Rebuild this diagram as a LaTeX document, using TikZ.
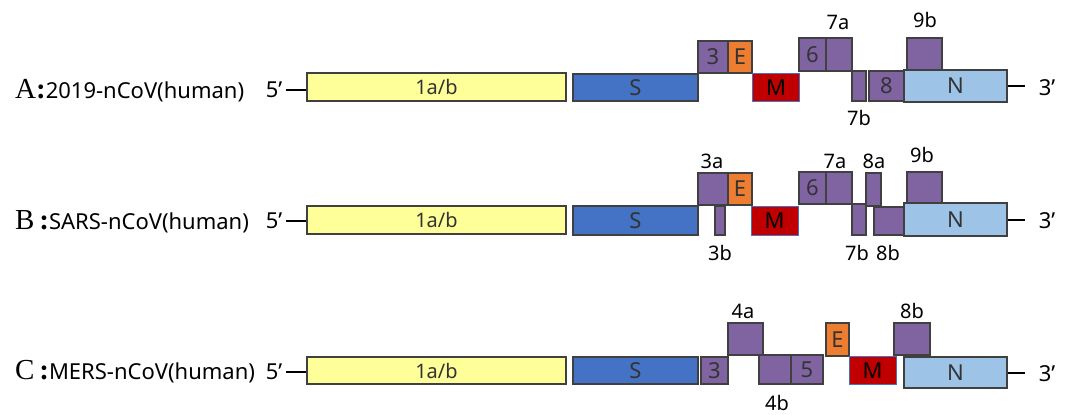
\documentclass[tikz,border=0pt]{standalone}
\usepackage{fontspec}
\setmainfont{Noto Sans}
\newfontfamily\letterfont{Liberation Serif}
\definecolor{orfyellow}{HTML}{FFFF99}
\definecolor{sblue}{HTML}{4472C4}
\definecolor{mred}{HTML}{C00000}
\definecolor{eorange}{HTML}{ED7D31}
\definecolor{orfpurple}{HTML}{8064A2}
\definecolor{nblue}{HTML}{9DC3E6}
\definecolor{edge}{HTML}{404040}
\tikzset{
  gene/.style={draw=edge, line width=1.1pt, inner sep=0pt, text=black!80,
    font=\fontsize{22}{22}\selectfont},
  mbox/.style={gene, draw=sblue, line width=0.8pt, fill=mred, text=black},
  tag/.style={inner sep=0pt, font=\fontsize{20}{20}\selectfont},
  endmark/.style={inner sep=0pt, font=\fontsize{22}{22}\selectfont},
  strain/.style={inner sep=0pt, anchor=west, font=\fontsize{22}{22}\selectfont},
  strand/.style={line width=1.3pt, black},
}
\newcommand\serifletter[1]{{\letterfont\fontsize{29}{29}\selectfont #1}}
% gene box: name, x1, y1, x2, y2, fill, label
\newcommand\gbox[7]{%
  \node[gene, fill=#6, minimum width={#4-#2}, minimum height={#5-#3}]
    (#1) at ({(#2+#4)/2},{(#3+#5)/2}) {#7};}
\newcommand\polybox[5]{% name, x1, y1, x2, y2 : the 1a/b box
  \node[gene, fill=orfyellow, minimum width={#4-#2}, minimum height={#5-#3},
    font=\fontsize{20}{20}\selectfont]
    (#1) at ({(#2+#4)/2},{(#3+#5)/2}) {1a/b};}
\begin{document}
\begin{tikzpicture}[x=1pt,y=-1pt]
\useasboundingbox (0,0) rectangle (1069,415);

% ---------------- A: 2019-nCoV ----------------
\node[strain] (labA) at (15,91) {\serifletter{A\textbf{:}}2019-nCoV(human)};
\node[endmark] (fA) at (274,90) {5'};
\polybox{abA}{307}{73}{566}{101}
\gbox{sA}{573}{74}{698}{101}{sblue}{S}
\gbox{o3A}{698}{41}{728}{73}{orfpurple}{3}
\gbox{eA}{728}{41}{752}{73}{eorange}{E}
\node[mbox, minimum width=47, minimum height=28] (mA) at (776,87.5) {M};
\gbox{o6A}{799}{38}{826}{71}{orfpurple}{6}
\gbox{o7aA}{826}{38}{852}{71}{orfpurple}{}
\gbox{o7bA}{852}{71}{866}{101}{orfpurple}{}
\gbox{o8A}{869}{71}{904}{101}{orfpurple}{8}
\gbox{o9bA}{907}{38}{942}{70}{orfpurple}{}
\gbox{nA}{904}{70}{1007}{102}{nblue}{N}
\node[endmark] (tA) at (1047,88) {3'};
\node[tag] (l7aA) at (838,22) {7a};
\node[tag] (l9bA) at (925,20) {9b};
\node[tag] (l7bA) at (859,118) {7b};
\draw[strand] (fA.east) ++(4,0) coordinate (sA5) -- (sA5 -| abA.west);
\draw[strand] (nA.east |- 0,86) -- (1025,86) coordinate (eA3);

% ---------------- B: SARS-nCoV ----------------
\node[strain] (labB) at (15,222) {\serifletter{B\,\textbf{:}}SARS-nCoV(human)};
\node[endmark] (fB) at (274,221) {5'};
\polybox{abB}{307}{206}{566}{234}
\gbox{sB}{573}{206}{698}{235}{sblue}{S}
\gbox{o3aB}{698}{173}{728}{205}{orfpurple}{}
\gbox{eB}{728}{173}{752}{205}{eorange}{E}
\gbox{o3bB}{715}{206}{725}{235}{orfpurple}{}
\node[mbox, minimum width=47, minimum height=29] (mB) at (774.5,220.5) {M};
\gbox{o6B}{799}{172}{826}{204}{orfpurple}{6}
\gbox{o7aB}{826}{172}{852}{204}{orfpurple}{}
\gbox{o7bB}{852}{204}{866}{235}{orfpurple}{}
\gbox{o8aB}{866}{173}{881}{206}{orfpurple}{}
\gbox{o8bB}{874}{207}{904}{235}{orfpurple}{}
\gbox{o9bB}{907}{172}{942}{203}{orfpurple}{}
\gbox{nB}{904}{203}{1007}{236}{nblue}{N}
\node[endmark] (tB) at (1047,221) {3'};
\node[tag] (l3aB) at (712,161) {3a};
\node[tag] (l7aB) at (835,161) {7a};
\node[tag] (l8aB) at (874,161) {8a};
\node[tag] (l9bB) at (922,155) {9b};
\node[tag] (l3bB) at (720,253) {3b};
\node[tag] (l7bB) at (857,253) {7b};
\node[tag] (l8bB) at (888,253) {8b};
\draw[strand] (fB.east) ++(4,0) coordinate (sB5) -- (sB5 -| abB.west);
\draw[strand] (nB.east |- 0,220) -- (1025,220) coordinate (eB3);

% ---------------- C: MERS-nCoV ----------------
\node[strain] (labC) at (15,372) {\serifletter{C\,\textbf{:}}MERS-nCoV(human)};
\node[endmark] (fC) at (274,372) {5'};
\polybox{abC}{307}{357}{566}{384}
\gbox{sC}{573}{357}{698}{384}{sblue}{S}
\gbox{o3C}{701}{357}{728}{384}{orfpurple}{3}
\gbox{o4aC}{728}{323}{763}{355}{orfpurple}{}
\gbox{o4bC}{759}{355}{791}{384}{orfpurple}{}
\gbox{o5C}{791}{355}{823}{384}{orfpurple}{5}
\gbox{eC}{826}{323}{849}{356}{eorange}{E}
\node[mbox, minimum width=47, minimum height=28] (mC) at (872.5,370.5) {M};
\gbox{o8bC}{894}{323}{930}{355}{orfpurple}{}
\gbox{nC}{904}{357}{1007}{388}{nblue}{N}
\node[endmark] (tC) at (1047,374) {3'};
\node[tag] (l4aC) at (743,311) {4a};
\node[tag] (l4bC) at (777,403) {4b};
\node[tag] (l8bC) at (912,311) {8b};
\draw[strand] (fC.east) ++(4,0) coordinate (sC5) -- (sC5 -| abC.west);
\draw[strand] (nC.east |- 0,373) -- (1025,373) coordinate (eC3);
\end{tikzpicture}
\end{document}
